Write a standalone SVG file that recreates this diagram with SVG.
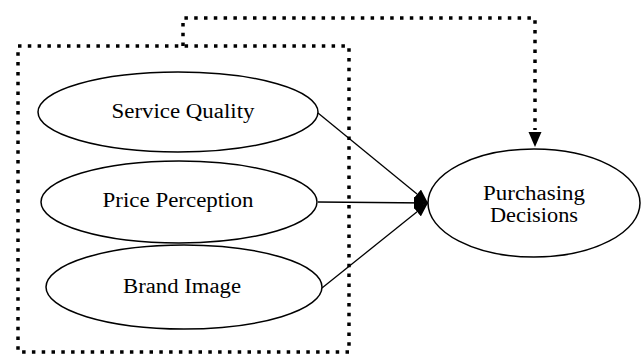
<svg xmlns="http://www.w3.org/2000/svg" width="643" height="356" viewBox="0 0 643 356">
<style>
.n{fill:#fff;stroke:#000;stroke-width:1.5}
.t{font-family:'Liberation Serif','Times New Roman',Times,'DejaVu Serif',serif;font-size:20px;fill:#000;text-anchor:middle}
.dot{fill:none;stroke:#000;stroke-width:3.5;stroke-dasharray:3.5 6.3}
.ln{fill:none;stroke:#000;stroke-width:1.3}
</style>
<defs>
<marker id="ah" viewBox="0 0 14 12" refX="14" refY="6" markerUnits="userSpaceOnUse" markerWidth="14" markerHeight="12" orient="auto">
<path d="M0,0 L14,6 L0,12 z" fill="#000"/>
</marker>
</defs>
<rect class="dot" x="18" y="46" width="331" height="306"/>
<g id="connectors">
<path class="dot" d="M183,46 V18 H535 V130"/>
<path d="M528.5,132 L541.5,132 L535,147 z" fill="#000"/>
<line class="ln" x1="318" y1="113" x2="428" y2="203" marker-end="url(#ah)"/>
<line class="ln" x1="318" y1="202" x2="428" y2="203" marker-end="url(#ah)"/>
<line class="ln" x1="322" y1="288" x2="428" y2="203" marker-end="url(#ah)"/>
</g>
<g id="service-quality">
<ellipse class="n" cx="178" cy="112" rx="140" ry="40"/>
<text class="t" x="183" y="118" textLength="143" lengthAdjust="spacingAndGlyphs">Service Quality</text>
</g>
<g id="price-perception">
<ellipse class="n" cx="179" cy="202" rx="138" ry="41"/>
<text class="t" x="178" y="207" textLength="151" lengthAdjust="spacingAndGlyphs">Price Perception</text>
</g>
<g id="brand-image">
<ellipse class="n" cx="184" cy="287" rx="138" ry="42"/>
<text class="t" x="182" y="293" textLength="118" lengthAdjust="spacingAndGlyphs">Brand Image</text>
</g>
<g id="purchasing-decisions">
<ellipse class="n" cx="534" cy="203" rx="106" ry="54"/>
<text class="t" x="534" y="200" textLength="102" lengthAdjust="spacingAndGlyphs">Purchasing</text>
<text class="t" x="534" y="222" textLength="88" lengthAdjust="spacingAndGlyphs">Decisions</text>
</g>
</svg>
